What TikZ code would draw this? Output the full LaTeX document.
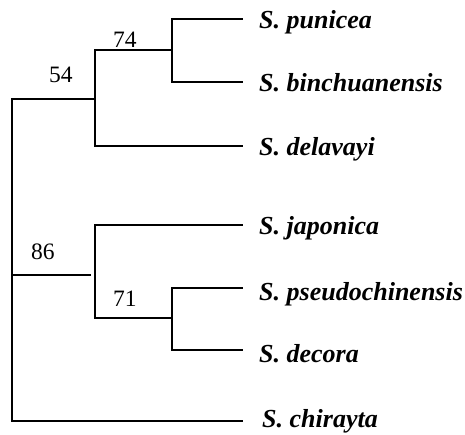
\documentclass[tikz,border=0pt]{standalone}
\usepackage{fontspec}
\setmainfont{Liberation Serif}
\begin{document}
\begin{tikzpicture}[x=1pt,y=-1pt,
  branch/.style={line width=1.6pt, line cap=rect},
  taxon/.style={anchor=base west, inner sep=0pt,
    font=\fontsize{26}{26}\selectfont\bfseries\itshape},
  boot/.style={anchor=base west, inner sep=0pt,
    font=\fontsize{23.5}{23.5}\selectfont}]
\useasboundingbox (0,0) rectangle (465,435);

% internal nodes
\coordinate (root) at (12,99);
\coordinate (rootlow) at (12,275);
\coordinate (rootend) at (12,421);
\coordinate (n54) at (95,99);
\coordinate (n54a) at (95,50);
\coordinate (n54b) at (95,146);
\coordinate (n74) at (172,50);
\coordinate (n74a) at (172,19);
\coordinate (n74b) at (172,82);
\coordinate (n86in) at (90,275);
\coordinate (n86a) at (95,225);
\coordinate (n86b) at (95,318);
\coordinate (n71) at (172,318);
\coordinate (n71a) at (172,288);
\coordinate (n71b) at (172,350);

% leaf tips
\coordinate (t1) at (242,19);
\coordinate (t2) at (242,82);
\coordinate (t3) at (242,146);
\coordinate (t4) at (242,225);
\coordinate (t5) at (242,288);
\coordinate (t6) at (242,350);
\coordinate (t7) at (242,421);

% taxa
\node[taxon] (punicea) at (259,29) {S. punicea};
\node[taxon] (binch) at (259,92) {S. binchuanensis};
\node[taxon] (delav) at (259,156) {S. delavayi};
\node[taxon] (japon) at (259,235) {S. japonica};
\node[taxon] (pseudo) at (259,300) {S. pseudochinensis};
\node[taxon] (decora) at (259,362) {S. decora};
\node[taxon] (chir) at (262,427) {S. chirayta};

% bootstrap values
\node[boot] (b74) at (113,47.5) {74};
\node[boot] (b54) at (49,83) {54};
\node[boot] (b86) at (31,260) {86};
\node[boot] (b71) at (113,306.5) {71};

% branches
\draw[branch] (root) -- (rootend) -- (t7);
\draw[branch] (root) -- (n54);
\draw[branch] (n54a) -- (n54b);
\draw[branch] (n54a) -- (n74);
\draw[branch] (n74a) -- (n74b);
\draw[branch] (n74a) -- (t1);
\draw[branch] (n74b) -- (t2);
\draw[branch] (n54b) -- (t3);
\draw[branch] (rootlow) -- (n86in);
\draw[branch] (n86a) -- (n86b);
\draw[branch] (n86a) -- (t4);
\draw[branch] (n86b) -- (n71);
\draw[branch] (n71a) -- (n71b);
\draw[branch] (n71a) -- (t5);
\draw[branch] (n71b) -- (t6);
\end{tikzpicture}
\end{document}
